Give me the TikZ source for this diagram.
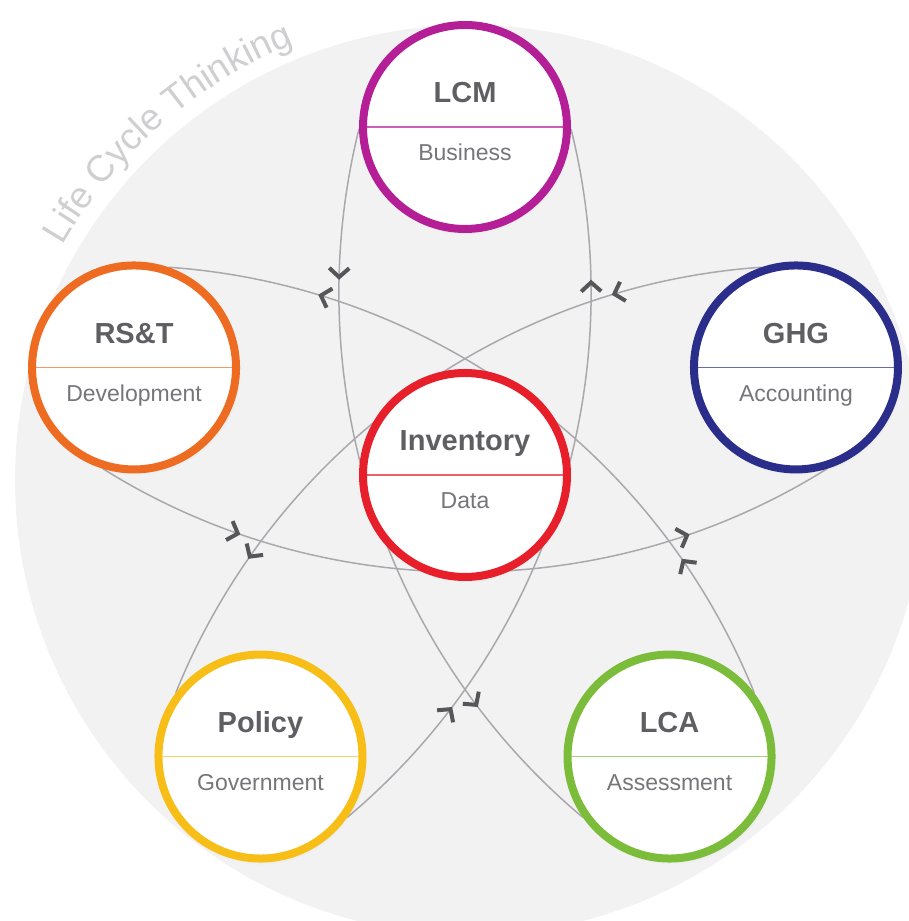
\documentclass[tikz,border=0pt]{standalone}
\usepackage{fontspec}
\setmainfont{Liberation Sans}
\usetikzlibrary{calc,arrows.meta,decorations.markings,decorations.text,shadows}

\definecolor{lcmc}{HTML}{B41E96}
\definecolor{rstc}{HTML}{EE6B22}
\definecolor{ghgc}{HTML}{2B2D8A}
\definecolor{invc}{HTML}{E61F2A}
\definecolor{polc}{HTML}{F7BE18}
\definecolor{lcac}{HTML}{7BBD3A}
\definecolor{discgrey}{HTML}{F2F2F3}
\definecolor{textgrey}{HTML}{5E5E63}
\definecolor{wiregrey}{HTML}{A9A9AD}
\definecolor{tipgrey}{HTML}{55555A}
\definecolor{lctgrey}{HTML}{CFCFD1}

\pgfdeclarelayer{back}
\pgfsetlayers{back,main}

\begin{document}
\begin{tikzpicture}[x=1pt,y=1pt,
                    hub/.style={circle,draw=#1,line width=8pt,fill=white,minimum size=204pt,inner sep=0pt,
                      circular drop shadow={shadow xshift=1pt,shadow yshift=-2pt,shadow scale=1.04,opacity=.2},
                      path picture={\draw[#1!70,line width=1.2pt] (path picture bounding box.west) -- (path picture bounding box.east);}},
                    ttl/.style={anchor=base,font=\fontsize{29}{29}\selectfont\bfseries,text=textgrey},
                    sub/.style={anchor=base,font=\fontsize{23}{23}\selectfont,text=textgrey!85},
                    chev/.tip={Straight Barb[length=9pt,width=20pt,line width=4pt 0,color=tipgrey]},
                    flow/.style={draw=wiregrey,line width=1.5pt,looseness=.92,
                      postaction={decorate,decoration={markings,
                        mark=at position .2 with {\arrow{chev}},
                        mark=at position .8 with {\arrow{chev}}}}}
]
\useasboundingbox (0,0) rectangle (908,921);

\coordinate (mid) at (470,441);
\begin{pgfonlayer}{back}
\fill[discgrey] (mid) circle[radius=455];
\end{pgfonlayer}
\path[decorate,decoration={text along path,text align=center,text color=lctgrey,
      text={|\fontsize{37}{37}\selectfont|Life Cycle Thinking}}]
    ([shift={(155:470)}]mid) arc[start angle=155,end angle=107,radius=470];

\node [hub=invc] at (465,446) (inv) {};
\node [hub=lcmc] at ($(inv)+(90:348)$) (lcm) {};
\node [hub=rstc] at ($(inv)+(162:348)$) (rst) {};
\node [hub=ghgc] at ($(inv)+(18:348)$) (ghg) {};
\node [hub=polc] at ($(inv)+(234:348)$) (pol) {};
\node [hub=lcac] at ($(inv)+(306:348)$) (lca) {};

\node [ttl] at ([yshift=24pt]lcm.center) (lcm-t) {LCM};
\node [sub] at ([yshift=-34pt]lcm.center) (lcm-s) {Business};
\node [ttl] at ([yshift=24pt]rst.center) (rst-t) {RS\&T};
\node [sub] at ([yshift=-34pt]rst.center) (rst-s) {Development};
\node [ttl] at ([yshift=24pt]ghg.center) (ghg-t) {GHG};
\node [sub] at ([yshift=-34pt]ghg.center) (ghg-s) {Accounting};
\node [ttl] at ([yshift=24pt]inv.center) (inv-t) {Inventory};
\node [sub] at ([yshift=-34pt]inv.center) (inv-s) {Data};
\node [ttl] at ([yshift=24pt]pol.center) (pol-t) {Policy};
\node [sub] at ([yshift=-34pt]pol.center) (pol-s) {Government};
\node [ttl] at ([yshift=24pt]lca.center) (lca-t) {LCA};
\node [sub] at ([yshift=-34pt]lca.center) (lca-s) {Assessment};

\begin{pgfonlayer}{back}
\draw[flow] (lcm.181) to[out=256,in=140] (lca.215);
\draw[flow] (rst.253) to[out=328,in=212] (ghg.287);
\draw[flow] (pol.325) to[out=40,in=284] (lcm.359);
\draw[flow] (lca.37) to[out=112,in=356] (rst.71);
\draw[flow] (ghg.109) to[out=184,in=68] (pol.143);
\end{pgfonlayer}

\end{tikzpicture}
\end{document}
